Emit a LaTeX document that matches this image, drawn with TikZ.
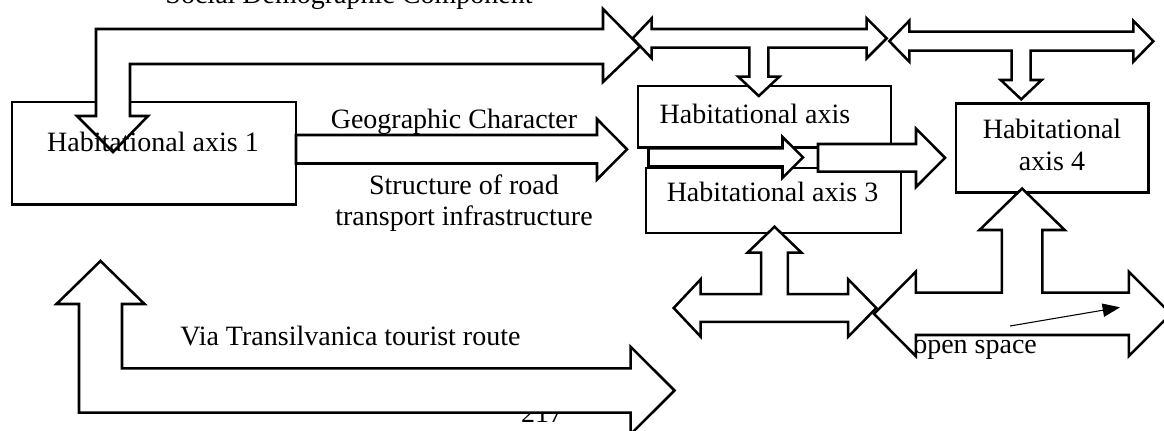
\documentclass[tikz,border=0pt]{standalone}
\usepackage{fontspec}
\setmainfont{Liberation Serif}
\usepackage{tikz}
\usetikzlibrary{arrows.meta}

\begin{document}
\begin{tikzpicture}[
        x=0.75pt, y=-0.75pt,
        box/.style={draw=black, fill=white, line width=1.9pt, inner sep=0pt},
        blockarrow/.style={draw=black, fill=white, line width=1.9pt, line join=miter},
        lbl/.style={font=\fontsize{21}{23}\selectfont, inner sep=0pt}
    ]
    \useasboundingbox (0,0) rectangle (1164,431);

    % Texts that lie under the arrows
    \node[lbl, anchor=base] (page) at (542,422) {217};
    \node[lbl, anchor=base west] (open) at (913,353.3) {open space};

    % Define boxes
    \node[box, minimum width=213pt, minimum height=76.9pt] (ax1) at (154,153.5) {};
    \node[box, minimum width=189.75pt, minimum height=46.1pt] (ax2) at (764.5,116.75) {};
    \node[box, minimum width=191.25pt, minimum height=48.75pt] (ax3) at (773.5,200.5) {};
    \node[box, minimum width=144.4pt, minimum height=67pt] (ax4) at (1052.25,148) {};

    % Social demographic arrow
    \draw[blockarrow] (113,152) -- (148,116) -- (130,116) -- (130,64) -- (603,64) -- (603,82)
        -- (640,46.5) -- (603,9) -- (603,29) -- (96,29) -- (96,116) -- (77,116) -- cycle;

    % Geographic arrow
    \draw[blockarrow] (296,135) -- (597,135) -- (597,119) -- (627,149.3) -- (597,179.5)
        -- (597,163.5) -- (296,163.5) -- cycle;

    % Double arrows on top
    \draw[blockarrow] (632.7,38.3) -- (651.7,18.3) -- (651.7,29) -- (866.7,29) -- (866.7,18.3)
        -- (886.7,38.3) -- (866.7,58.3) -- (866.7,47.7) -- (768.3,47.7) -- (768.3,76.7)
        -- (779.3,76.7) -- (758.8,96) -- (738.3,76.7) -- (749.3,76.7) -- (749.3,47.7)
        -- (651.7,47.7) -- (651.7,58.3) -- cycle;
    \draw[blockarrow] (889.3,41.2) -- (909.3,20.7) -- (909.3,31.7) -- (1133.3,31.7) -- (1133.3,20.7)
        -- (1153.3,41.2) -- (1133.3,61.7) -- (1133.3,50.7) -- (1030.7,50.7) -- (1030.7,80)
        -- (1041.7,80) -- (1021.2,99.3) -- (1000.7,80) -- (1011.7,80) -- (1011.7,50.7)
        -- (909.3,50.7) -- (909.3,61.7) -- cycle;

    % Arrows between axis 2, 3 and 4
    \draw[blockarrow] (648.5,148.3) -- (782.5,148.3) -- (782.5,137) -- (803,157.4) -- (782.5,177.8)
        -- (782.5,166.5) -- (648.5,166.5) -- cycle;
    \draw[blockarrow] (818,144) -- (916,144) -- (916,128.6) -- (945,157.8) -- (916,187)
        -- (916,171.6) -- (818,171.6) -- cycle;

    % Arrow under axis 3
    \draw[blockarrow] (673.7,308) -- (700.7,279.3) -- (700.7,294.2) -- (761.2,294.2) -- (761.2,252.7)
        -- (747.5,252.7) -- (774.5,226.7) -- (801.5,252.7) -- (787.8,252.7) -- (787.8,294.2)
        -- (848.2,294.2) -- (848.2,279.3) -- (876.3,308) -- (848.2,336.7) -- (848.2,321.8)
        -- (700.7,321.8) -- (700.7,336.7) -- cycle;

    % Arrow under axis 4
    \draw[blockarrow] (874,313.9) -- (915.8,271.7) -- (915.8,292.7) -- (1001.8,292.7) -- (1001.8,230)
        -- (979.5,230) -- (1022.1,188.5) -- (1064.7,230) -- (1042.4,230) -- (1042.4,292.7)
        -- (1128.8,292.7) -- (1128.8,271.7) -- (1171,313.9) -- (1128.8,356.1) -- (1128.8,335)
        -- (915.8,335) -- (915.8,356.1) -- cycle;

    % Tourist route arrow
    \draw[blockarrow] (100.5,261) -- (144.5,304) -- (122,304) -- (122,368.3) -- (630.6,368.3)
        -- (630.6,346.7) -- (674.5,390.5) -- (630.6,434.3) -- (630.6,412.7) -- (79,412.7)
        -- (79,304) -- (56.5,304) -- cycle;

    % Thin arrow in the open space
    \coordinate (os1) at (1010,326);
    \coordinate (os2) at (1120,307.3);
    \draw[line width=0.8pt, -{Triangle[length=13pt, width=10pt]}] (os1) -- (os2);

    % Labels
    \node[lbl, anchor=base] (social) at (349,4) {Social Demographic Component};
    \node[lbl, anchor=base] (t1) at (153,152) {Habitational axis 1};
    \node[lbl, anchor=base west] (t2) at (659.4,123.3) {Habitational axis};
    \node[lbl, anchor=base] (t3) at (772.5,201.7) {Habitational axis 3};
    \node[lbl, anchor=base, align=center, font=\fontsize{21}{24.3}\selectfont] (t4) at (1052,170.7) {Habitational\\axis 4};
    \node[lbl, anchor=base] (geo) at (454,128.3) {Geographic Character};
    \node[lbl, anchor=base, align=center] (road) at (464,225) {Structure of road\\transport infrastructure};
    \node[lbl, anchor=base west] (via) at (180,345) {Via Transilvanica tourist route};

\end{tikzpicture}
\end{document}
